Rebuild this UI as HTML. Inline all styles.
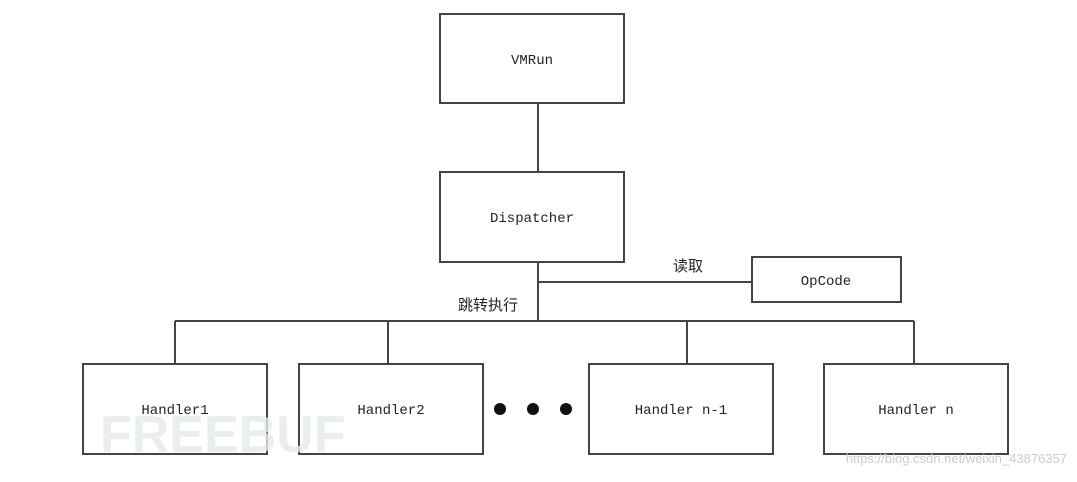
<!DOCTYPE html>
<html><head><meta charset="utf-8"><style>body{margin:0;background:#fff}</style></head><body>
<svg width="1077" height="477" viewBox="0 0 1077 477" xmlns="http://www.w3.org/2000/svg">
<g fill="none" stroke="#444" stroke-width="2">
<rect x="440" y="14" width="184" height="89"/>
<rect x="440" y="172" width="184" height="90"/>
<rect x="752" y="257" width="149" height="45"/>
<rect x="83" y="364" width="184" height="90"/>
<rect x="299" y="364" width="184" height="90"/>
<rect x="589" y="364" width="184" height="90"/>
<rect x="824" y="364" width="184" height="90"/>
<path d="M538 103V172M538 262V321M538 282H752M175 321H914M175 321V364M388 321V364M687 321V364M914 321V364"/>
</g>
<g fill="#111"><circle cx="500" cy="409" r="6"/><circle cx="533" cy="409" r="6"/><circle cx="566" cy="409" r="6"/></g>
<text x="100" y="452" font-family="Liberation Sans, sans-serif" font-weight="bold" font-size="52" fill="#e6ece8" opacity="0.8">FREEBUF</text>
<g font-family="Liberation Mono, monospace" font-size="14" fill="#222" text-anchor="middle">
<text x="532" y="64">VMRun</text>
<text x="532" y="222">Dispatcher</text>
<text x="826" y="285">OpCode</text>
<text x="175" y="414">Handler1</text>
<text x="391" y="414">Handler2</text>
<text x="681" y="414">Handler n-1</text>
<text x="916" y="414">Handler n</text>
</g>
<g font-family="Liberation Sans, Noto Sans CJK SC, sans-serif" font-size="15" fill="#222" text-anchor="middle">
<text x="688" y="271">读取</text>
<text x="488" y="310">跳转执行</text>
</g>
<text x="1067" y="463" font-family="Liberation Sans, sans-serif" font-size="13" fill="#ccc" text-anchor="end">https://blog.csdn.net/weixin_43876357</text>
</svg>
</body></html>
